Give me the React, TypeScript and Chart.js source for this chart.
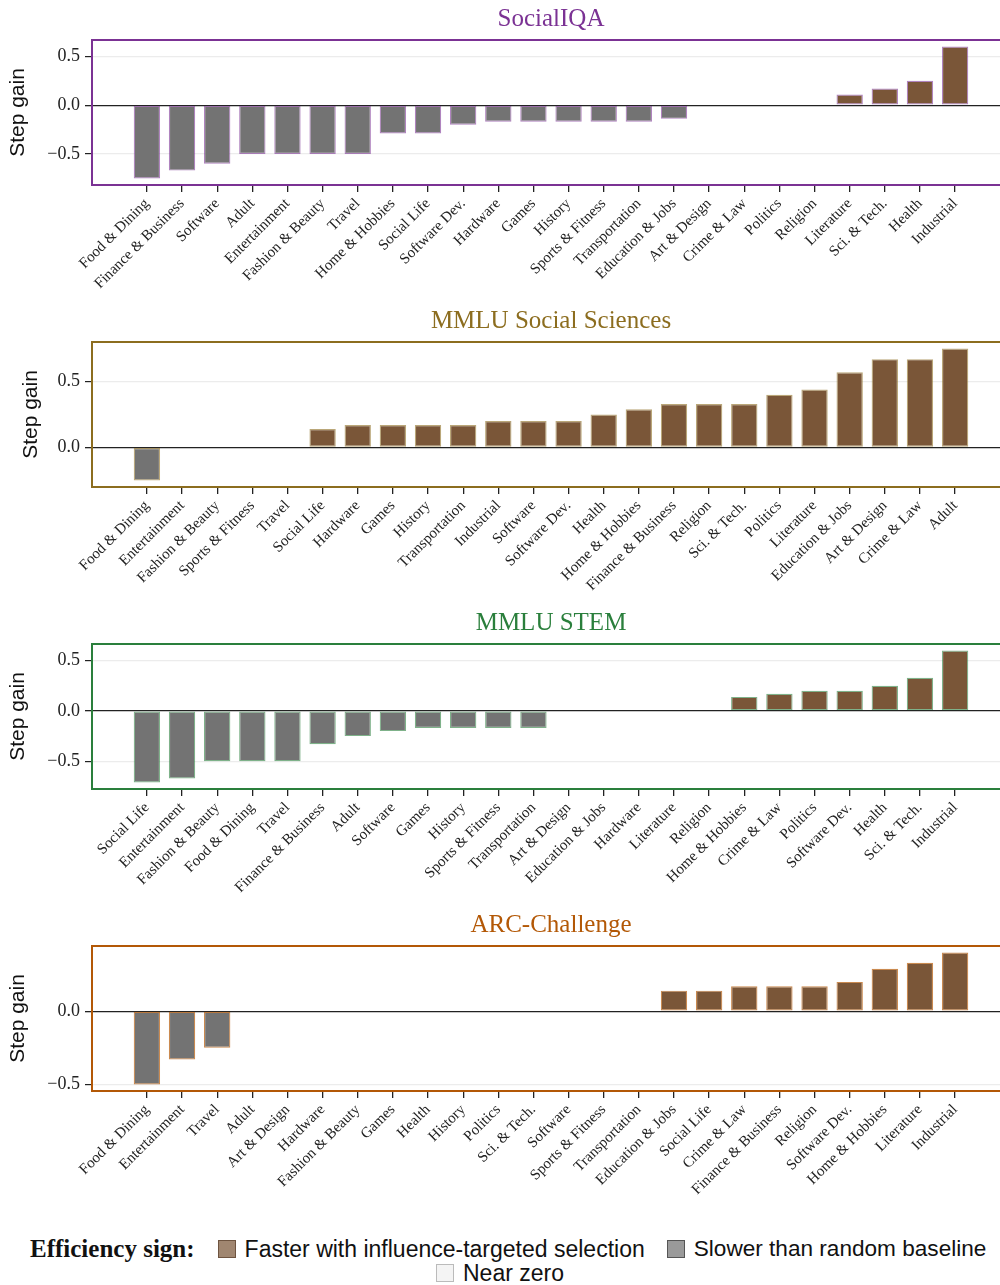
import React, { useEffect, useRef } from "react";
import { Chart, registerables } from "chart.js";

Chart.register(...registerables);

// ---------------- DATA ----------------
const SIQA_CATS = [
  "Food & Dining", "Finance & Business", "Software", "Adult", "Entertainment",
  "Fashion & Beauty", "Travel", "Home & Hobbies", "Social Life", "Software Dev.",
  "Hardware", "Games", "History", "Sports & Fitness", "Transportation",
  "Education & Jobs", "Art & Design", "Crime & Law", "Politics", "Religion",
  "Literature", "Sci. & Tech.", "Health", "Industrial",
];
const SIQA_VALS = [
  -0.75, -0.67, -0.6, -0.5, -0.5, -0.5, -0.5, -0.29, -0.29, -0.2,
  -0.17, -0.17, -0.17, -0.17, -0.17, -0.14, 0, 0, 0, 0,
  0.11, 0.17, 0.25, 0.6,
];

const MMLUSS_CATS = [
  "Food & Dining", "Entertainment", "Fashion & Beauty", "Sports & Fitness", "Travel",
  "Social Life", "Hardware", "Games", "History", "Transportation",
  "Industrial", "Software", "Software Dev.", "Health", "Home & Hobbies",
  "Finance & Business", "Religion", "Sci. & Tech.", "Politics", "Literature",
  "Education & Jobs", "Art & Design", "Crime & Law", "Adult",
];
const MMLUSS_VALS = [
  -0.25, 0, 0, 0, 0, 0.14, 0.17, 0.17, 0.17, 0.17,
  0.2, 0.2, 0.2, 0.25, 0.29, 0.33, 0.33, 0.33, 0.4, 0.44,
  0.57, 0.67, 0.67, 0.75,
];

const STEM_CATS = [
  "Social Life", "Entertainment", "Fashion & Beauty", "Food & Dining", "Travel",
  "Finance & Business", "Adult", "Software", "Games", "History",
  "Sports & Fitness", "Transportation", "Art & Design", "Education & Jobs", "Hardware",
  "Literature", "Religion", "Home & Hobbies", "Crime & Law", "Politics",
  "Software Dev.", "Health", "Sci. & Tech.", "Industrial",
];
const STEM_VALS = [
  -0.71, -0.67, -0.5, -0.5, -0.5, -0.33, -0.25, -0.2, -0.17, -0.17,
  -0.17, -0.17, 0, 0, 0, 0, 0, 0.14, 0.17, 0.2,
  0.2, 0.25, 0.33, 0.6,
];

const ARC_CATS = [
  "Food & Dining", "Entertainment", "Travel", "Adult", "Art & Design",
  "Hardware", "Fashion & Beauty", "Games", "Health", "History",
  "Politics", "Sci. & Tech.", "Software", "Sports & Fitness", "Transportation",
  "Education & Jobs", "Social Life", "Crime & Law", "Finance & Business", "Religion",
  "Software Dev.", "Home & Hobbies", "Literature", "Industrial",
];
const ARC_VALS = [
  -0.5, -0.33, -0.25, 0, 0, 0, 0, 0, 0, 0,
  0, 0, 0, 0, 0, 0.14, 0.14, 0.17, 0.17, 0.17,
  0.2, 0.29, 0.33, 0.4,
];

const PANEL_TITLES = ["SocialIQA", "MMLU Social Sciences", "MMLU STEM", "ARC-Challenge"];
const Y_TICKS = [-0.5, 0, 0.5];
const LEGEND_TITLE = "Efficiency sign:";
const LEGEND_LABELS = ["Faster with influence-targeted selection", "Slower than random baseline", "Near zero"];

// ---------------- STYLE ----------------
const PANEL_COLORS = ["#7b3294", "#8c6d1f", "#2a7f3c", "#b35806"];
const BAR_BORDERS = ["rgba(123,50,148,0.6)", "rgba(140,109,31,0.6)", "rgba(42,127,60,0.6)", "rgba(179,88,6,0.7)"];
const FASTER = "#7a5638";
const SLOWER = "#737373";
const NEAR = "#f2f2f2";

function barColor(v: number) {
  if (v > 0.02) return FASTER;
  if (v < -0.02) return SLOWER;
  return NEAR;
}

function fmtY(v: number) {
  if (Math.abs(v) < 1e-9) return "0.0";
  return (v < 0 ? "\u2212" : "") + Math.abs(v).toFixed(1);
}

const framePlugin = (color: string) => ({
  id: "frame",
  afterDatasetsDraw(chart: any) {
    const { ctx, chartArea } = chart;
    ctx.save();
    ctx.strokeStyle = color;
    ctx.lineWidth = 2;
    ctx.strokeRect(chartArea.left, chartArea.top, chartArea.right - chartArea.left, chartArea.bottom - chartArea.top);
    ctx.restore();
  },
});

type PanelProps = {
  cats: string[];
  vals: number[];
  title: string;
  color: string;
  border: string;
  top: number;
  labelPad: number;
};

function Panel({ cats, vals, title, color, border, top, labelPad }: PanelProps) {
  const ref = useRef<HTMLCanvasElement | null>(null);
  useEffect(() => {
    if (!ref.current) return;
    const n = cats.length;
    const lo = -0.375;
    const hi = n - 1 + 0.375;
    const xm = 0.05 * (hi - lo);
    const dmin = Math.min(0, ...vals);
    const dmax = Math.max(0, ...vals);
    const ym = 0.05 * (dmax - dmin);
    const ymin = dmin - ym;
    const ymax = dmax + ym;

    const chart = new Chart(ref.current, {
      type: "bar",
      data: {
        datasets: [
          {
            data: vals.map((v, i) => ({ x: i, y: v })),
            backgroundColor: vals.map(barColor),
            borderColor: border,
            borderWidth: 1.2,
            borderSkipped: false,
            categoryPercentage: 0.75,
            barPercentage: 1,
          } as any,
        ],
      },
      options: {
        responsive: false,
        animation: false,
        layout: { padding: 0 },
        plugins: {
          legend: { display: false },
          tooltip: { enabled: false },
          title: {
            display: true,
            text: title,
            color,
            fullSize: false,
            font: { family: "'Liberation Serif', serif", size: 25, weight: "normal" },
            padding: { top: 4, bottom: 6 },
          },
        },
        scales: {
          x: {
            type: "linear",
            min: lo - xm,
            max: hi + xm,
            offset: false,
            afterBuildTicks: (s: any) => {
              s.ticks = cats.map((_, i) => ({ value: i }));
            },
            afterFit: (s: any) => {
              s.height = 116;
            },
            ticks: {
              autoSkip: false,
              minRotation: 45,
              maxRotation: 45,
              padding: 3,
              color: "#222",
              font: { family: "'Liberation Serif', serif", size: 15 },
              callback: (v: any) => cats[Math.round(Number(v))] ?? "",
            },
            grid: { offset: false, drawOnChartArea: false, drawTicks: true, tickLength: 7, color: "#222", lineWidth: 1.3 },
            border: { display: false },
          },
          y: {
            min: ymin,
            max: ymax,
            afterBuildTicks: (s: any) => {
              s.ticks = Y_TICKS.filter((t) => t >= ymin && t <= ymax).map((v) => ({ value: v }));
            },
            afterFit: (s: any) => {
              s.width = 92;
            },
            ticks: {
              padding: 5,
              color: "#222",
              font: { family: "'Liberation Serif', serif", size: 18 },
              callback: (v: any) => fmtY(Number(v)),
            },
            grid: {
              color: (c: any) => (Math.abs(c.tick?.value ?? 1) < 1e-9 ? "#222" : "#ececec"),
              lineWidth: (c: any) => (Math.abs(c.tick?.value ?? 1) < 1e-9 ? 1.3 : 1.2),
              tickColor: "#222",
              tickLength: 7,
            },
            border: { display: false },
            title: {
              display: true,
              text: "Step gain",
              color: "#111",
              font: { family: "'Liberation Sans', sans-serif", size: 21 },
              padding: { top: labelPad, bottom: 0 },
            },
          },
        },
      } as any,
      plugins: [framePlugin(color)],
    });
    return () => chart.destroy();
  }, [cats, vals, title, color, border, labelPad]);

  return (
    <canvas
      ref={ref}
      width={1010}
      height={301}
      style={{ position: "absolute", left: 0, top, width: 1010, height: 301 }}
    />
  );
}

const PANELS = [
  { cats: SIQA_CATS, vals: SIQA_VALS, top: 0, labelPad: 6 },
  { cats: MMLUSS_CATS, vals: MMLUSS_VALS, top: 302, labelPad: 19 },
  { cats: STEM_CATS, vals: STEM_VALS, top: 604, labelPad: 6 },
  { cats: ARC_CATS, vals: ARC_VALS, top: 906, labelPad: 6 },
];

function Swatch({ fill, edge }: { fill: string; edge: string }) {
  return (
    <span
      style={{
        display: "inline-block",
        width: 16,
        height: 16,
        background: fill,
        border: `1px solid ${edge}`,
        marginRight: 9,
        flex: "0 0 auto",
      }}
    />
  );
}

export default function App() {
  const sans = "'Liberation Sans', sans-serif";
  return (
    <div
      style={{
        position: "absolute",
        left: 0,
        top: 0,
        width: 1000,
        height: 1285,
        overflow: "hidden",
        background: "#fff",
      }}
    >
      {PANELS.map((p, i) => (
        <Panel
          key={i}
          cats={p.cats}
          vals={p.vals}
          title={PANEL_TITLES[i]}
          color={PANEL_COLORS[i]}
          border={BAR_BORDERS[i]}
          top={p.top}
          labelPad={p.labelPad}
        />
      ))}
      <div
        style={{
          position: "absolute",
          left: 30,
          top: 1235,
          height: 28,
          display: "flex",
          alignItems: "center",
          whiteSpace: "nowrap",
          color: "#111",
        }}
      >
        <span style={{ fontFamily: "'Liberation Serif', serif", fontWeight: "bold", fontSize: 25, marginRight: 23 }}>
          {LEGEND_TITLE}
        </span>
        <Swatch fill="#a08670" edge="#6e5440" />
        <span style={{ fontFamily: sans, fontSize: 23, marginRight: 22 }}>{LEGEND_LABELS[0]}</span>
        <Swatch fill="#9a9a9a" edge="#555" />
        <span style={{ fontFamily: sans, fontSize: 22.6 }}>{LEGEND_LABELS[1]}</span>
      </div>
      <div
        style={{
          position: "absolute",
          left: 0,
          width: 1000,
          top: 1259,
          height: 28,
          display: "flex",
          alignItems: "center",
          justifyContent: "center",
          whiteSpace: "nowrap",
          color: "#111",
        }}
      >
        <Swatch fill="#f4f4f4" edge="#bbb" />
        <span style={{ fontFamily: sans, fontSize: 23 }}>{LEGEND_LABELS[2]}</span>
      </div>
    </div>
  );
}
